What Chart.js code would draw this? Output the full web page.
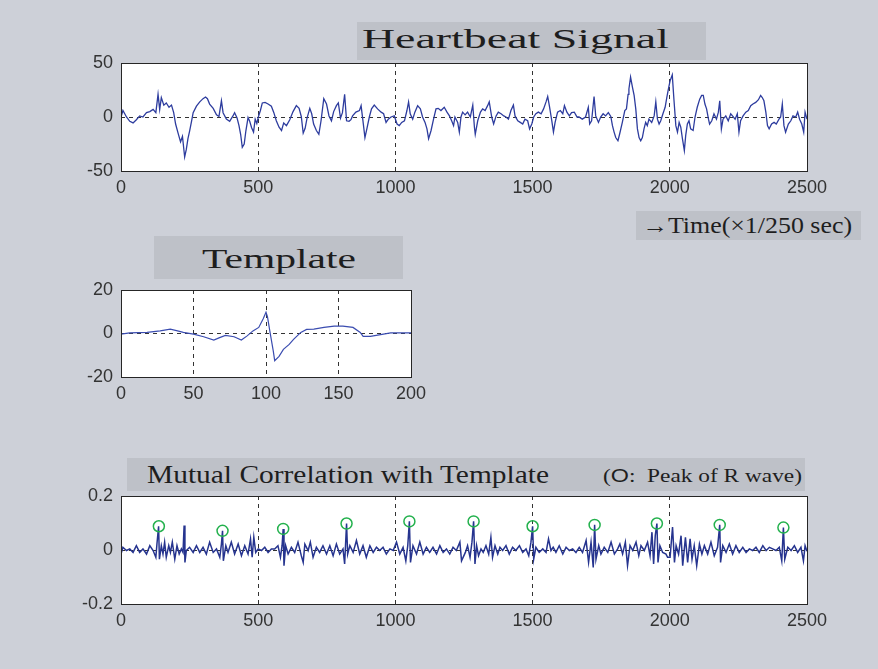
<!DOCTYPE html>
<html>
<head>
<meta charset="utf-8">
<title>Heartbeat Signal</title>
<script src="https://cdn.jsdelivr.net/npm/chart.js@4.4.1/dist/chart.umd.min.js"></script>
<style>
  body { margin: 0; background: #cdd0d8; }
  #wrap { position: relative; width: 878px; height: 669px; overflow: hidden; background: #cdd0d8; }
  canvas { position: absolute; left: 0; top: 0; }
  .box { position: absolute; background: #bec1c8; }
  .lbl {
    position: absolute;
    font-family: "Liberation Serif", "Times New Roman", serif;
    color: #1e1e1e;
    line-height: 1;
    white-space: nowrap;
    transform-origin: 0 0;
  }
  .sans { font-family: "Liberation Sans", Arial, sans-serif; }
</style>
</head>
<body>
<div id="wrap">
  <canvas id="heartbeat" width="878" height="669"></canvas>
  <canvas id="template" width="878" height="669"></canvas>
  <canvas id="correlation" width="878" height="669"></canvas>

  <div class="box" style="left:357px;top:22px;width:349px;height:38px"></div>
  <span class="lbl" data-w="307" style="left:362px;top:25px;font-size:28px">Heartbeat Signal</span>

  <div class="box" style="left:636px;top:211px;width:225px;height:29px"></div>
  <span class="lbl" data-w="210" style="left:642px;top:214px;font-size:23px">→Time(×1/250 sec)</span>

  <div class="box" style="left:154px;top:236px;width:249px;height:43px"></div>
  <span class="lbl" data-w="154" style="left:202px;top:245px;font-size:28px">Template</span>

  <div class="box" style="left:127px;top:458px;width:678px;height:33px"></div>
  <span class="lbl" data-w="402" style="left:147px;top:462px;font-size:26px">Mutual Correlation with Template</span>
  <span class="lbl" data-w="199" style="left:603px;top:466px;font-size:19px">(<span class="sans">O</span>:&nbsp; Peak of R wave)</span>
</div>

<script>
// --- heartbeat signal (time in samples, 1/250 s) ---
const heartbeatT = [0, 7, 20, 32, 44, 56, 68, 80, 93, 105, 117, 127, 135, 141, 147, 156, 165, 175, 184, 192,
  199, 208, 217, 224, 232, 238, 244, 250, 257, 263, 275, 287, 299, 308, 315, 323, 336, 348, 357, 366,
  372, 384, 396, 408, 414, 423, 430, 436, 442, 449, 455, 463, 469, 476, 483, 489, 495, 501, 508, 515,
  525, 536, 548, 557, 566, 576, 585, 593, 603, 615, 627, 639, 649, 657, 664, 671, 678, 688, 695, 702,
  712, 721, 729, 739, 749, 758, 767, 775, 785, 792, 800, 807, 815, 822, 831,
  838, 844, 856, 869, 875, 881, 889, 896, 905, 913, 923, 935, 948, 957, 966, 974, 984, 996, 1006, 1014,
  1023, 1033, 1042, 1048, 1054, 1063, 1071, 1081, 1091, 1099, 1108, 1115, 1121, 1130, 1139, 1148, 1156, 1166, 1178, 1188,
  1197, 1205, 1212, 1217, 1227, 1233, 1239, 1245, 1254, 1263, 1273, 1282, 1288, 1291, 1300, 1310, 1318, 1327, 1336, 1342,
  1351, 1358, 1367, 1375, 1385, 1395, 1403, 1412, 1421, 1430, 1436, 1446, 1455, 1464, 1472, 1482, 1489, 1497, 1504, 1512,
  1521, 1531, 1540, 1549, 1555, 1561, 1570, 1576, 1582, 1591, 1601, 1610, 1616, 1625, 1634, 1642, 1652, 1662,
  1669, 1681, 1693, 1703, 1708, 1715, 1724, 1730, 1740, 1748, 1757, 1766, 1776, 1785, 1791, 1797, 1803, 1811, 1817, 1827,
  1836, 1842, 1848, 1851, 1857, 1864, 1870, 1876, 1882, 1888, 1894, 1900, 1906, 1912, 1918, 1924, 1934, 1943, 1949, 1955,
  1961, 1967, 1975, 1983, 1989, 1995, 2001, 2009, 2015, 2022, 2028, 2034, 2040, 2046, 2053, 2058, 2064, 2070, 2076, 2085,
  2092, 2100, 2109, 2116, 2122, 2128, 2134, 2141, 2145, 2153, 2161, 2170, 2177, 2182, 2188, 2194, 2204, 2213, 2222, 2230,
  2238, 2246, 2252, 2258, 2267, 2277, 2286, 2295, 2303, 2313, 2323, 2331, 2337, 2343, 2350, 2356, 2362, 2371, 2380, 2388,
  2398, 2404, 2410, 2416, 2422, 2432, 2441, 2449, 2459, 2466, 2473, 2481, 2488, 2493, 2500];
const heartbeatV = [0, 6, 0, -4, -5.5, -2.5, 1, 0, 4, 5, 7, 4, 21, 7, 18, 11, 13, 9, 11, 4,
  -6.5, -15, -23, -18, -37, -30, -20, -13, -4, 4, 10, 14, 17, 18.5, 17, 12, 8, 2, 0.5, 15,
  4, -2, -4, 1, 4, -1, -8, -16, -28, -25, -13, -0.5, -4, -10, -14, -2, -6, 0.5, 6, 13,
  13.5, 12, 10, 4, -3.5, -9.5, -12.5, -5.5, -8, -2.5, 5, 10.5, 8, 0.5, -15, -10.5, -1, 8, 3, -6.5,
  -12.5, -16, -3.5, 17, 12, 1, -3.5, 5, 10.5, 13, -1, 4, 21, -3.5, -4,
  -2.5, 1, 4.5, 6, 10.5, -2, -19, -11, 0, 7.5, 11, 7.5, 4.5, 3, -5, -2, 0, 1, -6.5, -8,
  -5, -3.5, 6, 14, 3, -2, 4.5, 10.5, 7.5, 0, -5, -11, -20, -12.5, -2, 7.5, 8, 6, 9, 4.5,
  1, -3.5, -8, 0, -5, -14, 0, 4.5, 2, 4.5, 0, 11, -9.5, -16, -3.5, 4.5, 7.5, 6, 10.5, 14,
  0, -6.5, 1, 4.5, 3, 1, 0, -2, 6, 11, 1, -3.5, -5, -6.5, -2, -3.5, -11, -6.5, 0, 3,
  4.5, 3, 7.5, 14, 19, 10.5, -3.5, -14, -5, 4.5, 6, 3, 10.5, 4.5, 1, 4, 4.5, 0,
  0, -2, 0, 9, -6.5, -3.5, 19, 1, -5, 0, 3, 1, 4, 0.5, -8, -14, -19, -22, -16, -5,
  6, 7.5, 21, 26, 37, 27.5, 20, 7.5, -11, -19, -22, -19, -11, -5, -8, -2, -5, 1, 14, -2,
  -6.5, -3.5, 3, 9, 18, 26, 33.5, 39, 16.5, -8, -14, -5, -9.5, -20, -31, -17, -6.5, -3.5, -11, -12.5,
  0, 9, 16.5, 20, 20, 12, 7.5, -2, -6.5, -3.5, 3, -2, 4.5, 15, -11, -2, 1, -3.5, 3, 0.5,
  -2, 3, -14, -3.5, 1, 4.5, 6, 10.5, 12, 13.5, 16, 20, 18, 15, 4.5, -8, -11, -6.5, -5, -6.5,
  -2, 0, 12, -8, -14, -6.5, -3.5, 1, 0, 4.5, -2, -6.5, -14, 4.5, -2];

// --- template (one beat) ---
const templateT = [0, 6, 18, 27, 34, 39, 43, 50, 57, 64, 68, 72, 78, 83, 87, 91, 95, 98, 100, 101,
  103, 105, 106, 109, 112, 116, 119, 124, 128, 133, 140, 147, 153, 160, 165, 167, 172, 179, 186, 200];
const templateV = [-0.3, 0.3, 0.5, 1.2, 2, 1.2, 0.5, -0.3, -1.5, -3, -1.9, -0.9, -1.5, -3, -1.1, 1.2, 2.8, 6.7, 9.8, 7.8,
  -0.3, -8, -12.5, -10.5, -7.3, -5, -2.7, 0.5, 1.9, 2, 2.8, 3.4, 3.4, 2.8, 0.5, -1.3, -1.3, -0.5, 0.3, 0.3];

// --- mutual correlation with template ---
const corrT = [0, 7, 20, 32, 44, 56, 68, 80, 93, 105, 117, 127, 131, 137, 140, 147, 153, 159, 165, 174,
  180, 187, 196, 204, 212, 220, 226, 230, 233, 238, 250, 263, 275, 287, 299, 311, 323, 336, 348, 360,
  366, 370, 373, 382, 390, 402, 414, 427, 439, 451, 463, 472, 478, 484, 491, 500, 512, 524, 536, 548,
  560, 572, 581, 587, 591, 594, 600, 609, 621, 633, 645, 657, 664, 670, 682, 690, 700, 712, 724, 736,
  749, 761, 773, 785, 797, 809, 815, 822, 826, 834, 846, 858, 870, 882, 894, 907, 919, 931, 943, 955,
  967, 980, 992, 1004, 1016, 1028, 1038, 1045, 1051, 1055, 1064, 1077, 1089, 1101, 1113, 1125, 1137, 1150, 1162, 1174,
  1186, 1198, 1210, 1222, 1235, 1241, 1255, 1263, 1272, 1279, 1285, 1290, 1296, 1303, 1312, 1320, 1330, 1340, 1348, 1354,
  1363, 1373, 1381, 1391, 1403, 1415, 1427, 1439, 1452, 1464, 1476, 1486, 1494, 1500, 1504, 1512, 1524, 1537, 1549, 1558,
  1567, 1575, 1585, 1597, 1610, 1622, 1634, 1646, 1658, 1670, 1682, 1695, 1704, 1713, 1721, 1726, 1731, 1741, 1749, 1761,
  1774, 1786, 1798, 1810, 1818, 1828, 1838, 1846, 1855, 1865, 1877, 1887, 1895, 1907, 1919, 1928, 1935, 1941, 1947, 1953,
  1957, 1964, 1974, 1986, 1992, 2001, 2010, 2017, 2023, 2032, 2041, 2047, 2057, 2065, 2074, 2081, 2089, 2098, 2108, 2117,
  2126, 2138, 2150, 2162, 2174, 2182, 2185, 2193, 2205, 2217, 2229, 2241, 2253, 2266, 2278, 2290, 2302, 2314, 2326, 2339,
  2351, 2363, 2375, 2387, 2399, 2408, 2414, 2419, 2430, 2442, 2454, 2466, 2478, 2487, 2493, 2500];
const corrV = [-0.015, 0.010, -0.002, 0.004, -0.009, 0.016, -0.009, 0.004, -0.015, 0.016, -0.002, -0.027, 0.022, 0.088, -0.034, 0.016, -0.015, 0.029, -0.027, 0.016,
  -0.009, 0.029, -0.034, 0.016, -0.015, 0.004, -0.009, 0.091, -0.046, -0.002, 0.010, -0.009, 0.016, -0.009, 0.010, -0.015, 0.029, -0.009, 0.004, -0.027,
  0.022, 0.071, -0.040, 0.016, -0.009, 0.029, -0.015, 0.022, -0.021, 0.016, -0.015, 0.041, -0.027, 0.047, -0.009, 0.004, -0.002, 0.010, -0.009, 0.004,
  0.004, 0.016, -0.027, 0.016, 0.078, -0.058, 0.016, -0.015, 0.010, -0.009, 0.029, -0.021, -0.046, 0.022, -0.002, 0.029, -0.027, 0.010, -0.009, 0.016,
  -0.015, 0.016, -0.021, 0.022, -0.015, 0.004, -0.052, 0.098, -0.015, 0.016, -0.009, 0.035, -0.015, 0.016, -0.027, 0.016, -0.009, 0.010, -0.002, 0.010,
  -0.015, 0.004, -0.002, 0.029, -0.015, 0.010, -0.040, 0.016, 0.106, -0.046, 0.016, -0.015, 0.029, -0.015, 0.010, -0.009, 0.010, -0.015, 0.016, -0.009,
  0.004, -0.015, 0.010, -0.002, 0.029, -0.040, -0.009, 0.016, -0.027, 0.029, 0.106, -0.052, 0.016, -0.021, 0.004, -0.009, 0.016, -0.015, 0.047, -0.027,
  0.016, -0.015, 0.010, -0.002, 0.016, -0.015, 0.010, -0.002, 0.016, -0.009, 0.004, -0.021, 0.029, 0.088, -0.034, 0.010, -0.009, 0.004, -0.009, 0.041,
  -0.002, 0.010, -0.009, 0.016, -0.015, 0.010, -0.002, 0.004, -0.009, 0.010, -0.009, 0.035, -0.046, 0.029, -0.065, 0.093, -0.034, 0.016, -0.015, 0.010,
  -0.009, 0.029, -0.015, 0.004, 0.022, -0.015, 0.029, -0.058, 0.016, -0.002, 0.029, -0.021, 0.016, -0.002, 0.029, -0.021, 0.066, -0.052, 0.053, 0.098,
  -0.046, 0.016, -0.009, -0.015, -0.027, -0.027, 0.085, -0.046, 0.016, -0.015, 0.053, -0.058, 0.047, -0.046, 0.041, -0.034, 0.016, -0.058, 0.022, -0.015,
  0.016, -0.015, 0.029, -0.021, 0.010, 0.093, -0.046, 0.016, -0.009, 0.022, -0.015, 0.016, -0.009, 0.010, -0.009, 0.004, -0.002, 0.010, -0.009, 0.016,
  -0.002, 0.010, 0.004, -0.002, 0.010, -0.040, 0.083, -0.034, 0.010, -0.002, 0.016, -0.009, 0.010, -0.040, 0.016, -0.005];

// detected R-wave peaks (green circles)
const peakT = [138, 370, 591, 822, 1051, 1285, 1500, 1726, 1953, 2182, 2414];
const peakV = [0.088, 0.071, 0.078, 0.098, 0.106, 0.106, 0.088, 0.093, 0.098, 0.093, 0.083];

// axis ticks
const signalXTicks = [0, 500, 1000, 1500, 2000, 2500];
const heartbeatYTicks = [-50, 0, 50];
const templateXTicks = [0, 50, 100, 150, 200];
const templateYTicks = [-20, 0, 20];
const corrYTicks = [-0.2, 0, 0.2];
const corrYLabels = ['-0.2', '0', '0.2'];

function pts(t, v) {
  return t.map((x, i) => ({ x: x, y: v[i] }));
}

// white plot background + solid frame around the chart area
const framePlugin = {
  id: 'frame',
  beforeDraw(chart) {
    const a = chart.chartArea, ctx = chart.ctx;
    ctx.save();
    ctx.fillStyle = '#ffffff';
    ctx.fillRect(a.left, a.top, a.right - a.left, a.bottom - a.top);
    ctx.restore();
  },
  afterDraw(chart) {
    const a = chart.chartArea, ctx = chart.ctx;
    ctx.save();
    ctx.setLineDash([]);
    ctx.strokeStyle = '#262626';
    ctx.lineWidth = 1;
    ctx.strokeRect(Math.round(a.left) + 0.5, Math.round(a.top) + 0.5,
      Math.round(a.right - a.left), Math.round(a.bottom - a.top));
    ctx.restore();
  }
};

const tickFont = { family: 'Liberation Sans', size: 18 };

function makePlot(id, area, xTicks, yTicks, yLabels, datasets) {
  return new Chart(document.getElementById(id), {
    type: 'line',
    data: { datasets: datasets },
    options: {
      responsive: false,
      animation: false,
      devicePixelRatio: 1,
      layout: { padding: { left: 0, top: area.top, right: 878 - area.right, bottom: 669 - area.bottom - 40 } },
      plugins: { legend: { display: false }, tooltip: { enabled: false } },
      elements: { point: { radius: 0 }, line: { tension: 0 } },
      scales: {
        x: {
          type: 'linear',
          min: xTicks[0],
          max: xTicks[xTicks.length - 1],
          afterBuildTicks: s => { s.ticks = xTicks.map(v => ({ value: v })); },
          afterFit: s => { s.height = 40; },
          grid: { color: '#333333', lineWidth: 1, drawTicks: false },
          border: { display: false, dash: [4, 4] },
          ticks: {
            padding: 6, font: tickFont, color: '#333333', maxRotation: 0, autoSkip: false,
            callback: v => String(v)
          }
        },
        y: {
          type: 'linear',
          min: yTicks[0],
          max: yTicks[yTicks.length - 1],
          afterBuildTicks: s => { s.ticks = yTicks.map(v => ({ value: v })); },
          afterFit: s => { s.width = area.left; },
          grid: { color: '#333333', lineWidth: 1, drawTicks: false },
          border: { display: false, dash: [4, 4] },
          ticks: {
            padding: 8, font: tickFont, color: '#333333', autoSkip: false,
            callback: (v, i) => yLabels ? yLabels[i] : String(v)
          }
        }
      }
    },
    plugins: [framePlugin]
  });
}

const lineStyle = { borderColor: '#2d3c9e', borderWidth: 1.3, pointRadius: 0, fill: false };

makePlot('heartbeat', { left: 121, top: 63, right: 807, bottom: 171 }, signalXTicks, heartbeatYTicks, null, [
  Object.assign({ data: pts(heartbeatT, heartbeatV) }, lineStyle)
]);

makePlot('template', { left: 121, top: 290, right: 411, bottom: 377 }, templateXTicks, templateYTicks, null, [
  Object.assign({ data: pts(templateT, templateV) }, lineStyle, { borderColor: '#3a4cb0', borderWidth: 1.2 })
]);

makePlot('correlation', { left: 121, top: 496, right: 807, bottom: 604 }, signalXTicks, corrYTicks, corrYLabels, [
  {
    data: pts(peakT, peakV),
    showLine: false,
    pointRadius: 5.5,
    pointBorderColor: '#23b14d',
    pointBackgroundColor: 'rgba(0,0,0,0)',
    pointBorderWidth: 1.5
  },
  Object.assign({ data: pts(corrT, corrV) }, lineStyle, { borderColor: '#26348f', borderWidth: 1.5 })
]);

// stretch the serif labels horizontally to the widths they have in the figure
document.querySelectorAll('#wrap > .lbl').forEach(el => {
  const w = parseFloat(el.dataset.w);
  const k = w / el.getBoundingClientRect().width;
  el.style.transform = 'scaleX(' + k.toFixed(3) + ')';
});
</script>
</body>
</html>
